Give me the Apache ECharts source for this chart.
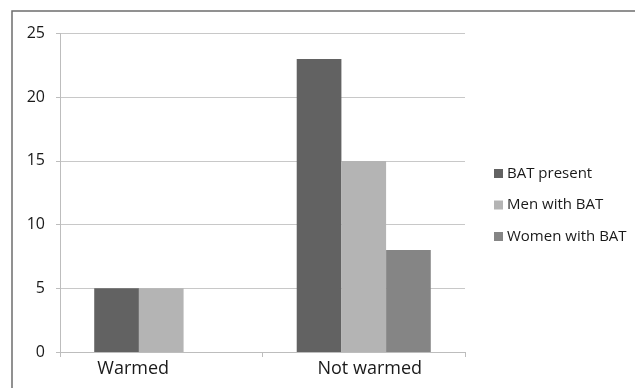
<!DOCTYPE html>
<html><head><meta charset="utf-8">
<script src="https://cdn.jsdelivr.net/npm/echarts@6/dist/echarts.min.js"></script>
<style>html,body{margin:0;padding:0;background:#fff}#c{width:635px;height:388px}</style>
</head><body><div id="c"></div>
<script>
const categories = ['Warmed', 'Not warmed'];
const seriesNames = ['BAT present', 'Men with BAT', 'Women with BAT'];
const batPresent = [5, 23];
const menWithBAT = [5, 15];
const womenWithBAT = [0, 8];
const yTicks = [0, 5, 10, 15, 20, 25];

const colors = ['#626262', '#b4b4b4', '#858585'];
const font = '"Open Sans", sans-serif';
const chart = echarts.init(document.getElementById('c'));
chart.setOption({
  animation: false,
  backgroundColor: '#fff',
  graphic: [{type: 'rect', shape: {x: 12, y: 11, width: 640, height: 400},
    style: {fill: 'none', stroke: '#6e6e6e', lineWidth: 1.5}, z: 100}],
  grid: {left: 60, right: 170, top: 33.5, bottom: 36},
  legend: {
    orient: 'vertical', left: 489, top: 158, itemWidth: 9, itemHeight: 9, itemGap: 10.5,
    icon: 'rect',
    textStyle: {fontFamily: font, fontSize: 15, color: '#1a1a1a', padding: [0, 0, 0, -1], lineHeight: 21, height: 21},
    data: seriesNames
  },
  xAxis: {
    type: 'category',
    data: [
      {value: categories[0], textStyle: {padding: [0, 56, 0, 0]}},
      {value: categories[1], textStyle: {padding: [0, 0, 0, 12]}}
    ],
    axisLine: {lineStyle: {color: '#bdbdbd', width: 1}},
    axisTick: {show: true, length: 5, lineStyle: {color: '#bdbdbd'}},
    axisLabel: {fontFamily: font, fontSize: 18, color: '#1a1a1a', margin: 8}
  },
  yAxis: {
    type: 'value', min: yTicks[0], max: yTicks[yTicks.length - 1], interval: 5,
    axisLine: {show: true, lineStyle: {color: '#bdbdbd', width: 1}},
    axisTick: {show: true, length: 4, lineStyle: {color: '#bdbdbd'}},
    splitLine: {lineStyle: {color: '#c8c8c8', width: 1.2}},
    axisLabel: {fontFamily: font, fontSize: 16, color: '#1a1a1a', margin: 15}
  },
  series: [batPresent, menWithBAT, womenWithBAT].map((d, i) => ({
    name: seriesNames[i], type: 'bar', data: d,
    itemStyle: {color: colors[i]},
    barGap: '0%', barCategoryGap: '33.8%'
  }))
});
</script></body></html>
